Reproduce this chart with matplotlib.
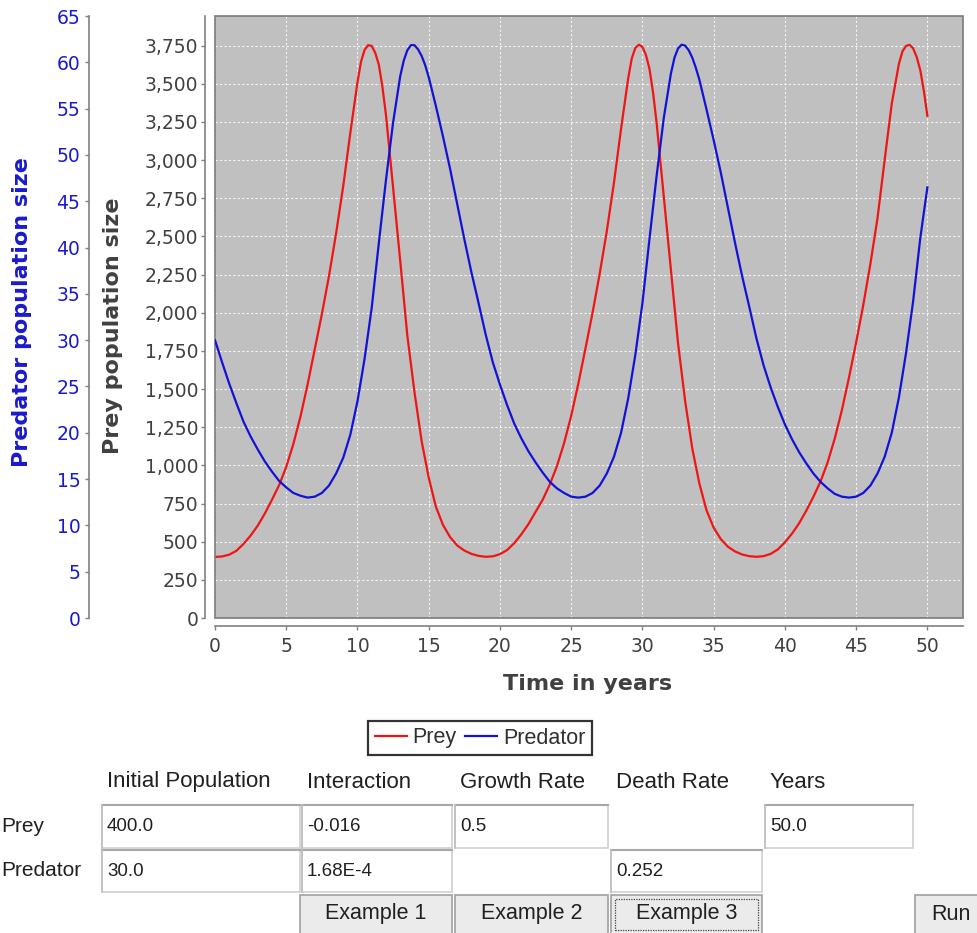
import matplotlib
matplotlib.use("Agg")
import matplotlib.pyplot as plt
from matplotlib.patches import Rectangle
from matplotlib.ticker import FuncFormatter, MultipleLocator

# ---------------- data ----------------
prey_years = [
    0, 0.5, 1, 1.5, 2, 2.5, 3, 3.5, 4, 4.5, 5, 5.5, 6, 6.5, 7, 7.5, 8, 8.5, 9, 9.5,
    10, 10.25, 10.5, 10.75, 11, 11.25, 11.5, 11.75, 12, 12.5, 13, 13.5, 14, 14.5,
    15, 15.5, 16, 16.5, 17, 17.5, 18, 18.5,
    19, 19.5, 20, 20.5, 21, 21.5, 22, 22.5, 23, 23.5, 24, 24.5, 25, 25.5, 26, 26.5,
    27, 27.5, 28, 28.5, 29, 29.25, 29.5, 29.75, 30, 30.25, 30.5, 30.75, 31, 31.5,
    32, 32.5, 33, 33.5, 34, 34.5, 35, 35.5, 36, 36.5, 37, 37.5,
    38, 38.5, 39, 39.5, 40, 40.5, 41, 41.5, 42, 42.5, 43, 43.5, 44, 44.5, 45, 45.5,
    46, 46.5, 47, 47.5, 48, 48.25, 48.5, 48.75, 49, 49.25, 49.5, 49.75, 50,
]
prey = [
    400, 403, 415, 440, 485, 540, 605, 685, 775, 870, 990, 1140, 1320, 1530, 1760,
    1990, 2240, 2520, 2830, 3180,
    3510, 3645, 3722, 3753, 3748, 3702, 3625, 3480, 3295, 2820, 2340, 1850, 1480,
    1160, 920, 730, 610, 530, 475, 442, 420, 407,
    401, 404, 418, 445, 490, 548, 615, 695, 775, 875, 995, 1145, 1325, 1535, 1765,
    2000, 2255, 2535, 2850, 3205, 3535, 3665, 3735, 3756, 3742, 3688, 3595, 3440,
    3240, 2760, 2280, 1800, 1420, 1110, 880, 705, 592, 517, 467, 436, 416, 405,
    401, 405, 420, 449, 496, 553, 621, 703, 794, 894, 1020, 1176, 1362, 1576, 1806,
    2050, 2320, 2620, 3000, 3370, 3630, 3712, 3748, 3755, 3732, 3675, 3590, 3455,
    3290,
]

pred_years = [
    0, 0.5, 1, 1.5, 2, 2.5, 3, 3.5, 4, 4.5, 5, 5.5, 6, 6.5, 7, 7.5, 8, 8.5, 9, 9.5,
    10, 10.5, 11, 11.5, 12, 12.5, 13, 13.25, 13.5, 13.75, 14, 14.25, 14.5, 14.75,
    15, 15.5, 16, 16.5, 17, 17.5, 18, 18.5,
    19, 19.5, 20, 20.5, 21, 21.5, 22, 22.5, 23, 23.5, 24, 24.5, 25, 25.5, 26, 26.5,
    27, 27.5, 28, 28.5, 29, 29.5, 30, 30.5, 31, 31.5, 32, 32.25, 32.5, 32.75, 33,
    33.25, 33.5, 33.75, 34, 34.5, 35, 35.5, 36, 36.5, 37, 37.5,
    38, 38.5, 39, 39.5, 40, 40.5, 41, 41.5, 42, 42.5, 43, 43.5, 44, 44.5, 45, 45.5,
    46, 46.5, 47, 47.5, 48, 48.5, 49, 49.5, 50,
]
predator = [
    30.0, 27.6, 25.3, 23.2, 21.2, 19.6, 18.2, 16.9, 15.8, 14.8, 14.1, 13.5, 13.2,
    13.0, 13.1, 13.5, 14.3, 15.6, 17.3, 19.8,
    23.4, 28.0, 33.5, 40.5, 47.3, 53.5, 58.5, 60.2, 61.3, 61.85, 61.85, 61.4, 60.7,
    59.7, 58.4, 55.3, 52.0, 48.5, 44.7, 40.9, 37.3, 34.0,
    30.6, 27.6, 25.2, 23.0, 21.0, 19.4, 18.0, 16.8, 15.7, 14.7, 14.0, 13.5, 13.1,
    13.0, 13.1, 13.5, 14.3, 15.6, 17.4, 20.0, 23.7, 28.4, 34.0, 41.0, 47.8, 54.0,
    58.8, 60.5, 61.5, 61.9, 61.8, 61.3, 60.5, 59.4, 58.1, 54.9, 51.6, 48.1, 44.3,
    40.5, 36.9, 33.6,
    30.2, 27.3, 24.9, 22.8, 20.9, 19.3, 17.9, 16.7, 15.6, 14.7, 14.0, 13.4, 13.1,
    13.0, 13.1, 13.5, 14.3, 15.6, 17.4, 20.0, 23.8, 28.6, 34.2, 41.0, 46.5,
]

series_names = ["Prey", "Predator"]
x_tick_step = 5
prey_tick_step = 250
pred_tick_step = 5

form_columns = ["Initial Population", "Interaction", "Growth Rate", "Death Rate", "Years"]
form_rows = ["Prey", "Predator"]
prey_params = ["400.0", "-0.016", "0.5", "", "50.0"]
pred_params = ["30.0", "1.68E-4", "", "0.252", ""]
buttons = ["Example 1", "Example 2", "Example 3", "Run"]

# ---------------- styling ----------------
W, H = 977, 933
RED = "#f01414"
BLUE = "#1212d6"
PRED_TXT = "#1a1acc"
GRAY_TXT = "#404040"
AXIS_GRAY = "#808080"
CHART_FONT = ["DejaVu Sans"]
FORM_FONT = ["Liberation Sans", "DejaVu Sans"]


def fx(x):
    return x / W


def fy(y):
    return 1 - y / H


fig = plt.figure(figsize=(W / 100, H / 100), dpi=100)
fig.patch.set_facecolor("white")

# data area in pixels: x 215..963, y 16..618
ax = fig.add_axes([fx(215), fy(618), (963 - 215) / W, (618 - 16) / H])
ax.set_facecolor("#c0c0c0")
ax.set_xlim(0, 52.5)
ax.set_ylim(0, 3944)
ax.set_axisbelow(True)
ax.grid(True, color="white", linestyle=(0, (2, 2)), linewidth=0.8, alpha=0.85)

line_prey, = ax.plot(prey_years, prey, color=RED, lw=1.6, label=series_names[0],
                     zorder=3, solid_joinstyle="round")

ax.xaxis.set_major_locator(MultipleLocator(x_tick_step))
ax.yaxis.set_major_locator(MultipleLocator(prey_tick_step))
ax.yaxis.set_major_formatter(FuncFormatter(lambda v, p: f"{int(round(v)):,}"))
ax.tick_params(axis="both", colors=AXIS_GRAY, labelcolor=GRAY_TXT, labelsize=13.5,
               length=3, width=1, direction="out")
ax.tick_params(axis="x", pad=5)
ax.tick_params(axis="y", pad=2)
for lab in ax.get_xticklabels() + ax.get_yticklabels():
    lab.set_family(CHART_FONT)

for s in ["top", "right"]:
    ax.spines[s].set_visible(False)
ax.spines["left"].set_position(("outward", 7))
ax.spines["bottom"].set_position(("outward", 6))
for s in ["left", "bottom"]:
    ax.spines[s].set_color(AXIS_GRAY)
    ax.spines[s].set_linewidth(1.2)

# outline of the data area
ax.add_patch(Rectangle((0, 0), 1, 1, transform=ax.transAxes, fill=False,
                       edgecolor="#7a7a7a", lw=1.2, clip_on=False, zorder=5))

# predator axis on the far left
ax2 = ax.twinx()
ax2.set_ylim(0, 65.0)
line_pred, = ax2.plot(pred_years, predator, color=BLUE, lw=1.6, label=series_names[1],
                      zorder=3, solid_joinstyle="round")
ax2.yaxis.set_major_locator(MultipleLocator(pred_tick_step))
ax2.yaxis.set_ticks_position("left")
ax2.yaxis.set_label_position("left")
for s in ["top", "right", "bottom"]:
    ax2.spines[s].set_visible(False)
ax2.spines["left"].set_visible(True)
ax2.spines["left"].set_position(("outward", 91))
ax2.spines["left"].set_color(AXIS_GRAY)
ax2.spines["left"].set_linewidth(1.2)
ax2.tick_params(axis="y", colors=AXIS_GRAY, labelcolor=PRED_TXT, labelsize=13.5,
                length=3, width=1, pad=3)
for lab in ax2.get_yticklabels():
    lab.set_family(CHART_FONT)

# axis labels
fig.text(fx(588), fy(684), "Time in years", ha="center", va="center",
         fontsize=16, fontweight="bold", color=GRAY_TXT, family=CHART_FONT)
fig.text(fx(113), fy(326), "Prey population size", ha="center", va="center",
         rotation=90, fontsize=16, fontweight="bold", color=GRAY_TXT, family=CHART_FONT)
fig.text(fx(22), fy(312), "Predator population size", ha="center", va="center",
         rotation=90, fontsize=16, fontweight="bold", color=PRED_TXT, family=CHART_FONT)

# legend
leg = fig.legend(handles=[line_prey, line_pred], loc="center",
                 bbox_to_anchor=(fx(480), fy(738)), ncol=2, frameon=True,
                 fancybox=False, edgecolor="black", handlelength=1.5,
                 handletextpad=0.25, columnspacing=0.4, borderpad=0.3,
                 prop={"family": FORM_FONT, "size": 15.5})
leg.get_frame().set_linewidth(1.6)
for t in leg.get_texts():
    t.set_color("#303030")

# ---------------- form below the chart ----------------
col_x = [(102, 300), (302, 452), (455, 608), (611, 762), (765, 913)]
row_y = [(805, 848), (850, 892)]
header_y = 782
LABEL_SIZE = 16
VALUE_SIZE = 13.5


def px_rect(x0, y0, x1, y1, **kw):
    r = Rectangle((fx(x0), fy(y1)), (x1 - x0) / W, (y1 - y0) / H,
                  transform=fig.transFigure, **kw)
    fig.add_artist(r)
    return r


for (x0, x1), name in zip(col_x, form_columns):
    fig.text(fx(x0 + 5), fy(header_y), name, ha="left", va="center",
             fontsize=LABEL_SIZE, color="#202020", family=FORM_FONT)

for (y0, y1), rname, params in zip(row_y, form_rows, [prey_params, pred_params]):
    fig.text(fx(1), fy((y0 + y1) / 2), rname, ha="left", va="center",
             fontsize=LABEL_SIZE - 1, color="#202020", family=FORM_FONT)
    for (x0, x1), val in zip(col_x, params):
        if val == "":
            continue
        px_rect(x0, y0, x1, y1, facecolor="white", edgecolor="#d0d0d0", lw=1.2)
        fig.add_artist(plt.Line2D([fx(x0), fx(x1)], [fy(y0), fy(y0)],
                                  transform=fig.transFigure, color="#a8a8a8", lw=1.5))
        fig.add_artist(plt.Line2D([fx(x0), fx(x0)], [fy(y0), fy(y1)],
                                  transform=fig.transFigure, color="#c0c0c0", lw=1.2))
        fig.text(fx(x0 + 5), fy((y0 + y1) / 2), val, ha="left", va="center",
                 fontsize=VALUE_SIZE, color="#202020", family=FORM_FONT)

button_x = [(300, 452), (455, 608), (611, 762), (915, 990)]
for (x0, x1), label in zip(button_x, buttons):
    px_rect(x0, 895, x1, 940, facecolor="#ebebeb", edgecolor="#a0a0a0", lw=1.2)
    if label == "Example 3":
        px_rect(x0 + 4, 899, x1 - 4, 930, facecolor="none", edgecolor="#404040",
                lw=0.9, linestyle=(0, (1, 1)))
    cx = (x0 + x1) / 2 if label != "Run" else 951
    fig.text(fx(cx), fy(914), label, ha="center", va="center",
             fontsize=LABEL_SIZE - 0.5, color="#202020", family=FORM_FONT)

fig.savefig("out.png", dpi=100, facecolor="white")
